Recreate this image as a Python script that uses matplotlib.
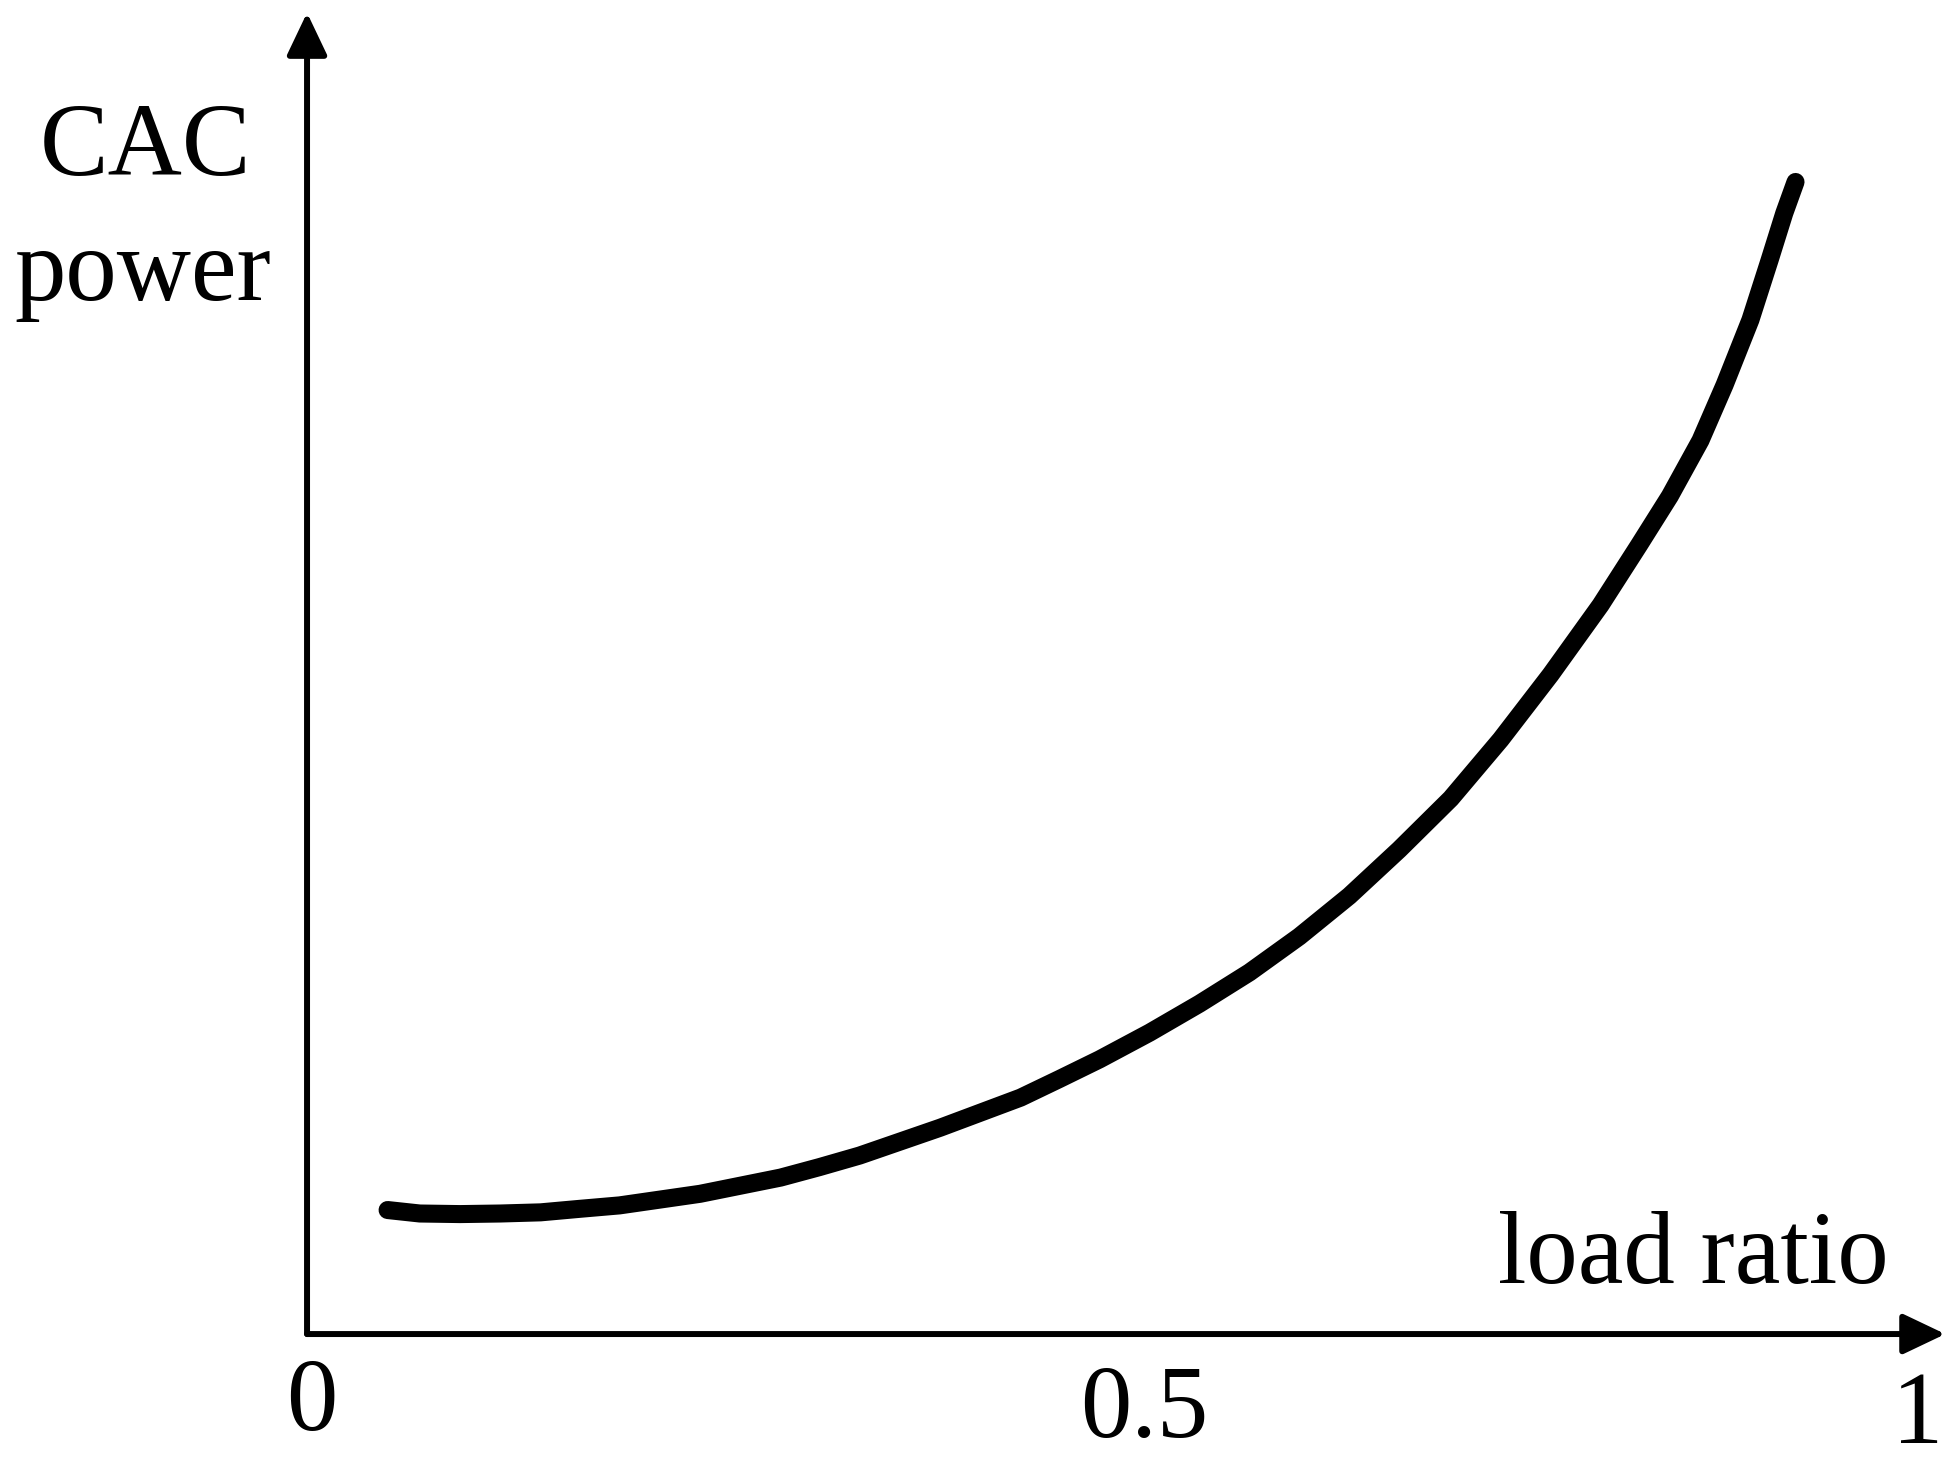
import numpy as np
import matplotlib
matplotlib.use("Agg")
import matplotlib.pyplot as plt

plt.rcParams["font.family"] = ["Liberation Serif", "DejaVu Serif"]

# CAC power vs load ratio (power normalised to the curve end)
load_ratio = [0.050, 0.070, 0.095, 0.120, 0.145, 0.169, 0.194, 0.219, 0.244,
              0.269, 0.294, 0.318, 0.343, 0.368, 0.393, 0.418, 0.443, 0.467,
              0.492, 0.523, 0.554, 0.585, 0.616, 0.647, 0.678, 0.710, 0.741,
              0.772, 0.803, 0.827, 0.846, 0.865, 0.880, 0.896, 0.908, 0.917,
              0.924]
cac_power = [0.107, 0.104, 0.1035, 0.104, 0.105, 0.108, 0.111, 0.116, 0.121,
             0.128, 0.135, 0.144, 0.154, 0.166, 0.178, 0.191, 0.204, 0.220,
             0.237, 0.260, 0.285, 0.312, 0.343, 0.378, 0.418, 0.462, 0.513,
             0.569, 0.629, 0.681, 0.723, 0.771, 0.819, 0.875, 0.927, 0.967,
             0.994]

tick_labels = ["0", "0.5", "1"]
tick_label_x = [0.003, 0.520, 1.000]  # label centres along load ratio
tick_label_y = [-0.083, -0.089, -0.094]
x_label = "load ratio"
y_label = ["CAC", "power"]

fig = plt.figure(figsize=(19.6, 14.7), dpi=100)
ax = fig.add_axes([0, 0, 1, 1])
ax.set_xlim(-0.1906, 1.0261)
ax.set_ylim(-0.1173, 1.1510)
ax.axis("off")

# axes with arrow heads
arrow = dict(arrowstyle="-|>,head_length=0.42,head_width=0.2", lw=4.3,
             color="black", shrinkA=0, shrinkB=0, mutation_scale=62)
ax.annotate("", xy=(0, 1.140), xytext=(0, 0), arrowprops=arrow)
ax.annotate("", xy=(1.017, 0), xytext=(0, 0), arrowprops=arrow)

ax.plot(load_ratio, cac_power, color="black", lw=13, solid_capstyle="round",
        solid_joinstyle="round")

fs = 74
for lab, tx, ty in zip(tick_labels, tick_label_x, tick_label_y):
    ax.text(tx, ty, lab, fontsize=fs, ha="center", va="baseline")

fig.text(0.8638, 0.1272, x_label, fontsize=fs, ha="center", va="baseline")
fig.text(0.074, 0.881, y_label[0], fontsize=fs, ha="center", va="baseline")
fig.text(0.073, 0.796, y_label[1], fontsize=fs, ha="center", va="baseline")

fig.savefig("out.png", dpi=100, facecolor="white")
